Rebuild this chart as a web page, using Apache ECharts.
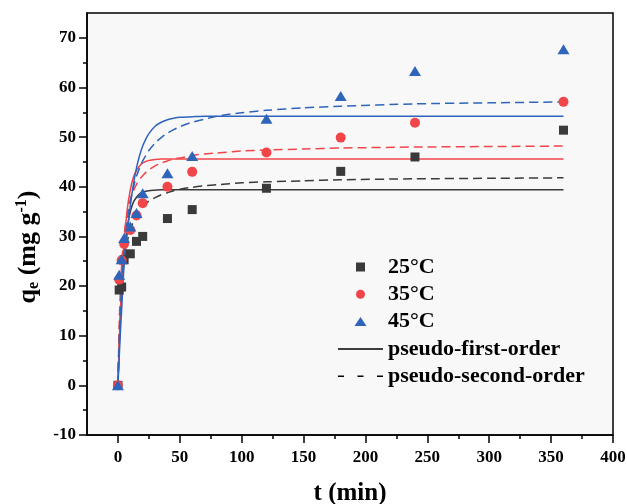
<!DOCTYPE html>
<html>
<head>
<meta charset="utf-8">
<script src="https://cdn.jsdelivr.net/npm/echarts@6/dist/echarts.min.js"></script>
<style>html,body{margin:0;padding:0;background:#fff;}#c{width:627px;height:504px;}</style>
</head>
<body>
<div id="c"></div>
<script>
// experimental sampling times (min)
const timePoints = [0, 1, 3, 5, 10, 15, 20, 40, 60, 120, 180, 240, 360];
const q25 = [0, 19.2, 19.8, 25.3, 26.5, 29.0, 30.0, 33.6, 35.4, 39.7, 43.1, 46.0, 51.4];
const q35 = [0, 21.3, 25.2, 28.5, 31.3, 34.2, 36.7, 40.0, 43.0, 46.9, 49.9, 52.9, 57.1];
const q45 = [0, 22.3, 25.4, 29.7, 32.0, 34.7, 38.7, 42.7, 46.2, 53.7, 58.3, 63.3, 67.7];

// fitted curves
const fitT  = [0, 1, 2, 3, 5, 7.5, 10, 12.5, 15, 17.5, 20, 22.5, 25, 30, 35, 40, 45, 50, 60, 70, 80, 90, 100, 120, 150, 180, 240, 300, 360];
const pfo25 = [0, 7.8, 14.0, 19.0, 26.3, 31.8, 35.0, 36.9, 37.9, 38.6, 38.9, 39.1, 39.2, 39.3, 39.4, 39.4, 39.4, 39.4, 39.4, 39.4, 39.4, 39.4, 39.4, 39.4, 39.4, 39.4, 39.4, 39.4, 39.4];
const pso25 = [0, 9.5, 15.5, 19.6, 24.9, 28.9, 31.3, 33.0, 34.3, 35.2, 36.0, 36.6, 37.1, 37.8, 38.4, 38.8, 39.2, 39.5, 39.9, 40.2, 40.4, 40.6, 40.8, 41.0, 41.2, 41.4, 41.6, 41.7, 41.8];
const pfo35 = [0, 8.3, 15.0, 20.6, 28.8, 35.4, 39.4, 41.9, 43.3, 44.2, 44.8, 45.1, 45.3, 45.5, 45.6, 45.6, 45.6, 45.6, 45.6, 45.6, 45.6, 45.6, 45.6, 45.6, 45.6, 45.6, 45.6, 45.6, 45.6];
const pso35 = [0, 12.2, 19.4, 24.3, 30.4, 34.7, 37.4, 39.2, 40.5, 41.5, 42.2, 42.9, 43.4, 44.2, 44.8, 45.2, 45.6, 45.8, 46.3, 46.6, 46.8, 47.0, 47.2, 47.4, 47.6, 47.8, 48.0, 48.1, 48.2];
const pfo45 = [0, 5.6, 10.7, 15.3, 24.4, 30.5, 36.2, 40.5, 43.8, 46.3, 48.2, 49.6, 50.7, 52.2, 53.0, 53.5, 53.8, 54.0, 54.1, 54.2, 54.2, 54.2, 54.2, 54.2, 54.2, 54.2, 54.2, 54.2, 54.2];
const pso45 = [0, 8.7, 15.1, 20.0, 27.2, 33.0, 37.0, 39.9, 42.1, 43.8, 45.2, 46.3, 47.3, 48.8, 49.9, 50.8, 51.5, 52.1, 53.0, 53.6, 54.2, 54.6, 54.9, 55.4, 55.9, 56.2, 56.7, 56.9, 57.1];

// axis ticks
const xMajor = [0, 50, 100, 150, 200, 250, 300, 350, 400];
const xMinor = [25, 75, 125, 175, 225, 275, 325, 375];
const yMajor = [-10, 0, 10, 20, 30, 40, 50, 60, 70];
const yMinor = [-5, 5, 15, 25, 35, 45, 55, 65];

const seriesNames = ['25°C', '35°C', '45°C'];
const lineNames = ['pseudo-first-order', 'pseudo-second-order'];

const cBlack = '#3a3a3a', cRed = '#f0464a', cBlue = '#2f64bb';
const font = '"Liberation Serif","Times New Roman",serif';

const pair = (xs, ys) => xs.map((x, i) => [x, ys[i]]);

function fitSeries(name, data, color, dashed) {
  return {
    name: name, type: 'line', data: pair(fitT, data),
    symbol: 'none', smooth: 0.25,
    lineStyle: { color: color, width: 1.5, type: dashed ? [9, 5] : 'solid' },
    itemStyle: { color: color }, z: 2, silent: true
  };
}
function scatterSeries(name, data, color, symbol, size) {
  return {
    name: name, type: 'scatter', data: pair(timePoints, data),
    symbol: symbol, symbolSize: size,
    itemStyle: { color: color, opacity: 1 }, z: 5
  };
}

const tickStyle = { color: '#000', width: 1.5 };
const labelStyle = { fontFamily: font, fontWeight: 'bold', fontSize: 17, color: '#000' };

const chart = echarts.init(document.getElementById('c'), null, { renderer: 'canvas' });
chart.setOption({
  animation: false,
  backgroundColor: '#ffffff',
  grid: {
    left: 87, right: 14, top: 13, bottom: 69, containLabel: false, outerBoundsMode: 'none',
    show: true, borderColor: '#000', borderWidth: 1.5, backgroundColor: '#f8f8f8'
  },
  legend: {
    data: [
      { name: seriesNames[0], icon: 'path://M0,0L9,0L9,9L0,9Z' },
      { name: seriesNames[1], icon: 'circle' },
      { name: seriesNames[2], icon: 'path://M6,0L12,9L0,9Z' },
      { name: lineNames[0], icon: 'path://M0,0L45,0L45,1.5L0,1.5Z' },
      { name: lineNames[1], icon: 'path://M0,0h6v1.5h-6zM19.5,0h6v1.5h-6zM39,0h6v1.5h-6z' }
    ],
    orient: 'vertical', left: 338, top: 256, padding: 0,
    itemWidth: 45, itemHeight: 9, itemGap: 5.3, symbolKeepAspect: true,
    textStyle: { fontFamily: font, fontWeight: 'bold', fontSize: 22, color: '#000', lineHeight: 22 },
    selectedMode: false
  },
  xAxis: [{
    type: 'value', min: -25, max: 400, position: 'bottom',
    axisLine: { show: true, onZero: false, lineStyle: tickStyle },
    axisTick: { show: true, length: 8, customValues: xMajor, lineStyle: tickStyle },
    axisLabel: Object.assign({ customValues: xMajor, margin: 14 }, labelStyle),
    splitLine: { show: false },
    name: 't (min)', nameLocation: 'middle', nameGap: 46,
    nameTextStyle: { fontFamily: font, fontWeight: 'bold', fontSize: 25, color: '#000' }
  }, {
    type: 'value', min: -25, max: 400, position: 'bottom',
    axisLine: { show: false, onZero: false },
    axisTick: { show: true, length: 4, customValues: xMinor, lineStyle: tickStyle },
    axisLabel: { show: false }, splitLine: { show: false }
  }],
  yAxis: [{
    type: 'value', min: -10, max: 75, position: 'left',
    axisLine: { show: true, onZero: false, lineStyle: tickStyle },
    axisTick: { show: true, length: 8, customValues: yMajor, lineStyle: tickStyle },
    axisLabel: Object.assign({ customValues: yMajor, margin: 11 }, labelStyle),
    splitLine: { show: false },
    name: '{a|q}{s|e}{a| (mg g}{p|-1}{a|)}', nameLocation: 'middle', nameGap: 45, nameRotate: 90,
    nameTextStyle: {
      padding: [0, 46, 0, 0],
      rich: {
        a: { fontFamily: font, fontWeight: 'bold', fontSize: 26, color: '#000' },
        s: { fontFamily: font, fontWeight: 'bold', fontSize: 16, color: '#000', verticalAlign: 'bottom', padding: [12, 0, 0, 0] },
        p: { fontFamily: font, fontWeight: 'bold', fontSize: 16, color: '#000', verticalAlign: 'top', padding: [0, 0, 10, 0] }
      }
    }
  }, {
    type: 'value', min: -10, max: 75, position: 'left',
    axisLine: { show: false, onZero: false },
    axisTick: { show: true, length: 4, customValues: yMinor, lineStyle: tickStyle },
    axisLabel: { show: false }, splitLine: { show: false }
  }],
  series: [
    fitSeries('PFO ' + seriesNames[0], pfo25, cBlack, false),
    fitSeries('PSO ' + seriesNames[0], pso25, cBlack, true),
    fitSeries('PFO ' + seriesNames[1], pfo35, cRed, false),
    fitSeries('PSO ' + seriesNames[1], pso35, cRed, true),
    fitSeries('PFO ' + seriesNames[2], pfo45, cBlue, false),
    fitSeries('PSO ' + seriesNames[2], pso45, cBlue, true),
    { name: lineNames[0], type: 'line', data: [], symbol: 'none', lineStyle: { color: '#000', width: 1.5 }, itemStyle: { color: '#000' } },
    { name: lineNames[1], type: 'line', data: [], symbol: 'none', lineStyle: { color: '#000', width: 1.5, type: 'dashed' }, itemStyle: { color: '#000' } },
    scatterSeries(seriesNames[0], q25, cBlack, 'rect', 9),
    scatterSeries(seriesNames[1], q35, cRed, 'circle', 10),
    scatterSeries(seriesNames[2], q45, cBlue, 'triangle', [12, 10])
  ]
});
</script>
</body>
</html>
